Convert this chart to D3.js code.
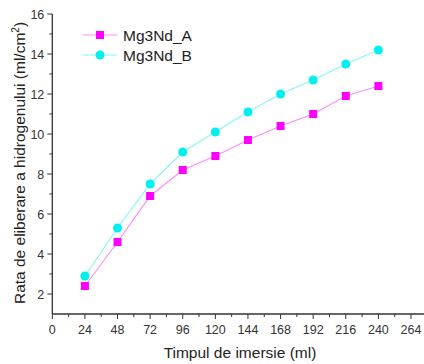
<!DOCTYPE html>
<html>
<head>
<meta charset="utf-8">
<script src="https://cdn.jsdelivr.net/npm/d3@7"></script>
<style>
  html, body { margin: 0; padding: 0; background: #fff; }
  svg { display: block; font-family: "Liberation Sans", Arial, sans-serif; }
</style>
</head>
<body>
<script>
// Immersion time (h) and hydrogen release rate for the two alloys
const times = [24, 48, 72, 96, 120, 144, 168, 192, 216, 240];
const seriesA = [2.4, 4.6, 6.9, 8.2, 8.9, 9.7, 10.4, 11.0, 11.9, 12.4];
const seriesB = [2.9, 5.3, 7.5, 9.1, 10.1, 11.1, 12.0, 12.7, 13.5, 14.2];
const seriesNames = ["Mg3Nd_A", "Mg3Nd_B"];
const xTicks = [0, 24, 48, 72, 96, 120, 144, 168, 192, 216, 240, 264];
const yTicks = [2, 4, 6, 8, 10, 12, 14, 16];

const W = 424, H = 364;
const svg = d3.select("body").append("svg").attr("width", W).attr("height", H);

const x = d3.scaleLinear().domain([0, 264]).range([52.3, 411]);
const y = d3.scaleLinear().domain([1, 16]).range([314, 14]);

const axisColor = "#333";

// X axis with major and minor ticks
const xAxisG = svg.append("g").attr("transform", `translate(0,${y(1)})`);
xAxisG.append("line").attr("x1", x(0)).attr("x2", W).attr("stroke", axisColor).attr("stroke-width", 1.3);
const xMinor = d3.range(12, 276, 24);
xAxisG.selectAll(".xmin").data(xMinor).join("line")
  .attr("x1", d => x(d)).attr("x2", d => x(d)).attr("y1", 0).attr("y2", 3)
  .attr("stroke", axisColor);
xAxisG.selectAll(".xmaj").data(xTicks).join("line")
  .attr("x1", d => x(d)).attr("x2", d => x(d)).attr("y1", 0).attr("y2", 5)
  .attr("stroke", axisColor);
xAxisG.selectAll(".xl").data(xTicks).join("text")
  .attr("x", d => x(d)).attr("y", 19.5)
  .attr("text-anchor", "middle").attr("font-size", 12.5).attr("fill", "#333")
  .text(d => d);

// Y axis with major and minor ticks
const yAxisG = svg.append("g").attr("transform", `translate(${x(0)},0)`);
yAxisG.append("line").attr("y1", y(1)).attr("y2", y(16)).attr("stroke", axisColor).attr("stroke-width", 1.3);
const yMinor = d3.range(3, 16, 2);
yAxisG.selectAll(".ymin").data(yMinor).join("line")
  .attr("y1", d => y(d)).attr("y2", d => y(d)).attr("x1", 0).attr("x2", -3)
  .attr("stroke", axisColor);
yAxisG.selectAll(".ymaj").data(yTicks).join("line")
  .attr("y1", d => y(d)).attr("y2", d => y(d)).attr("x1", 0).attr("x2", -5)
  .attr("stroke", axisColor);
yAxisG.selectAll(".yl").data(yTicks).join("text")
  .attr("x", -8).attr("y", d => y(d)).attr("dy", "0.36em")
  .attr("text-anchor", "end").attr("font-size", 12.5).attr("fill", "#333")
  .text(d => d);

// Axis titles
svg.append("text").attr("x", 240).attr("y", 358)
  .attr("text-anchor", "middle").attr("font-size", 15.5).attr("fill", "#222")
  .text("Timpul de imersie (ml)");

const yt = svg.append("text")
  .attr("transform", `translate(24.5,${163}) rotate(-90)`)
  .attr("text-anchor", "middle").attr("font-size", 15.5).attr("fill", "#222");
yt.append("tspan").text("Rata de eliberare a hidrogenului (ml/cm");
yt.append("tspan").attr("font-size", 10).attr("dy", -6).text("2");
yt.append("tspan").attr("dy", 6).text(")");

// Series
const series = [
  { name: seriesNames[0], values: seriesA, color: "#ff00ff", line: "#ff8cff", shape: "square" },
  { name: seriesNames[1], values: seriesB, color: "#00f0f0", line: "#8cf5f5", shape: "circle" }
];

const lineGen = d3.line().x((d, i) => x(times[i])).y(d => y(d));

series.forEach(s => {
  svg.append("path").datum(s.values)
    .attr("d", lineGen).attr("fill", "none")
    .attr("stroke", s.line).attr("stroke-width", 1.2);
  if (s.shape === "square") {
    svg.selectAll(null).data(s.values).join("rect")
      .attr("x", (d, i) => x(times[i]) - 4).attr("y", d => y(d) - 4)
      .attr("width", 8).attr("height", 8).attr("fill", s.color);
  } else {
    svg.selectAll(null).data(s.values).join("circle")
      .attr("cx", (d, i) => x(times[i])).attr("cy", d => y(d))
      .attr("r", 4.5).attr("fill", s.color);
  }
});

// Legend
const legend = svg.append("g");
series.forEach((s, i) => {
  const ly = 35 + i * 20;
  legend.append("line").attr("x1", 83).attr("x2", 117).attr("y1", ly).attr("y2", ly)
    .attr("stroke", s.line).attr("stroke-width", 1.2);
  if (s.shape === "square") {
    legend.append("rect").attr("x", 96).attr("y", ly - 4).attr("width", 8).attr("height", 8).attr("fill", s.color);
  } else {
    legend.append("circle").attr("cx", 100).attr("cy", ly).attr("r", 4.5).attr("fill", s.color);
  }
  legend.append("text").attr("x", 123).attr("y", ly).attr("dy", "0.36em")
    .attr("font-size", 15.5).attr("fill", "#222").text(s.name);
});
</script>
</body>
</html>
